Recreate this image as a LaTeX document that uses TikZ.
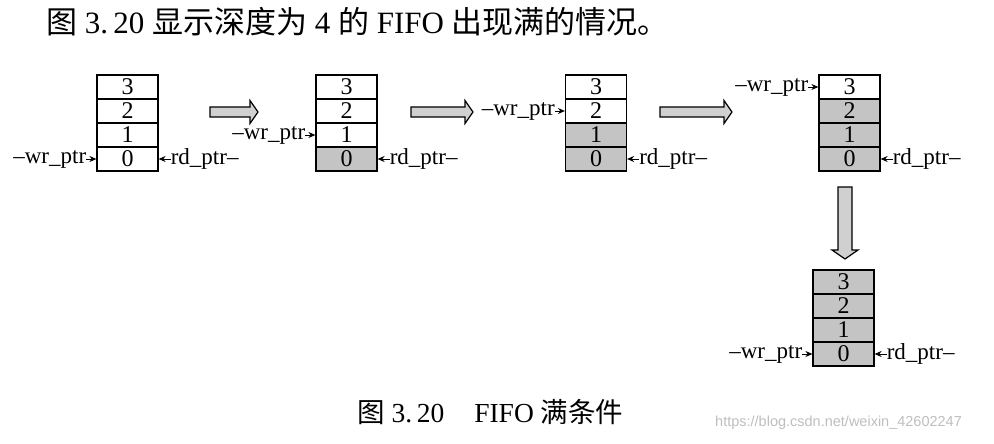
\documentclass[tikz,border=0pt]{standalone}
\usepackage{fontspec}
\setmainfont{Liberation Serif}
\newfontfamily\cjk{Noto Sans CJK SC}
\newfontfamily\wmfont{Liberation Sans}
\usetikzlibrary{arrows.meta,calc}
\definecolor{shade}{RGB}{196,196,196}
\definecolor{arrowfill}{RGB}{208,208,208}
\definecolor{wmgray}{RGB}{190,190,190}
\tikzset{
  cell/.style={draw=black, line width=1.2pt, minimum width=61pt, minimum height=24pt, inner sep=0pt, font=\fontsize{24}{24}\selectfont},
  full/.style={fill=shade},
  lbl/.style={inner sep=0pt, font=\fontsize{23}{23}\selectfont},
  ptr/.style={-{Stealth[length=7pt,width=6pt]}, line width=0.9pt},
  blockarrow/.style={draw=black, line width=1.2pt, fill=arrowfill}
}
\newcommand{\stackcells}[6]{%
  \node[cell,#4] (#1r0) at (#2,#3+84) {0};
  \node[cell,#5] (#1r1) at (#2,#3+60) {1};
  \node[cell,#6] (#1r2) at (#2,#3+36) {2};
}
\begin{document}
\begin{tikzpicture}[x=1pt,y=-1pt]
\useasboundingbox (0,0) rectangle (994,444);

% title
\node[anchor=west, inner sep=0pt, font=\fontsize{31}{31}\selectfont] (title) at (46,22)
  {{\cjk 图} 3.\,20 {\cjk 显示深度为} 4 {\cjk 的} FIFO {\cjk 出现满的情况。}};

% stack 1
\stackcells{a}{127.5}{75}{}{}{}
\node[cell] (ar3) at (127.5,87) {3};
% stack 2
\stackcells{b}{346.5}{75}{full}{}{}
\node[cell] (br3) at (346.5,87) {3};
% stack 3
\stackcells{c}{596}{75}{full}{full}{}
\node[cell] (cr3) at (596,87) {3};
% stack 4
\stackcells{d}{849.5}{75}{full}{full}{full}
\node[cell] (dr3) at (849.5,87) {3};
% stack 5
\stackcells{e}{843.5}{270}{full}{full}{full}
\node[cell,full] (er3) at (843.5,282) {3};

% pointers
\node[lbl, anchor=east] (wa) at ($(ar0.west)+(-10,0)$) {–wr\_ptr};
\draw[ptr] (wa.east) -- (ar0.west);
\node[lbl, anchor=west] (ra) at ($(ar0.east)+(12,0)$) {rd\_ptr–};
\draw[ptr] (ra.west) -- (ar0.east);

\node[lbl, anchor=east] (wb) at ($(br1.west)+(-10,0)$) {–wr\_ptr};
\draw[ptr] (wb.east) -- (br1.west);
\node[lbl, anchor=west] (rb) at ($(br0.east)+(12,0)$) {rd\_ptr–};
\draw[ptr] (rb.west) -- (br0.east);

\node[lbl, anchor=east] (wc) at ($(cr2.west)+(-10,0)$) {–wr\_ptr};
\draw[ptr] (wc.east) -- (cr2.west);
\node[lbl, anchor=west] (rc) at ($(cr0.east)+(12,0)$) {rd\_ptr–};
\draw[ptr] (rc.west) -- (cr0.east);

\node[lbl, anchor=east] (wd) at ($(dr3.west)+(-10,0)$) {–wr\_ptr};
\draw[ptr] (wd.east) -- (dr3.west);
\node[lbl, anchor=west] (rd) at ($(dr0.east)+(12,0)$) {rd\_ptr–};
\draw[ptr] (rd.west) -- (dr0.east);

\node[lbl, anchor=east] (we) at ($(er0.west)+(-10,0)$) {–wr\_ptr};
\draw[ptr] (we.east) -- (er0.west);
\node[lbl, anchor=west] (re) at ($(er0.east)+(12,0)$) {rd\_ptr–};
\draw[ptr] (re.west) -- (er0.east);

% block arrows (horizontal)
\draw[blockarrow] (210,107) -- (250,107) -- (250,100.5) -- (258,112) -- (250,123.5) -- (250,117) -- (210,117) -- cycle;
\draw[blockarrow] (411,107) -- (465,107) -- (465,100.5) -- (473,112) -- (465,123.5) -- (465,117) -- (411,117) -- cycle;
\draw[blockarrow] (660,107) -- (724,107) -- (724,100.5) -- (732,112) -- (724,123.5) -- (724,117) -- (660,117) -- cycle;
% block arrow (down)
\draw[blockarrow] (838,187) -- (852,187) -- (852,250) -- (858,250) -- (845,259) -- (832,250) -- (838,250) -- cycle;

% caption
\node[anchor=west, inner sep=0pt, font=\fontsize{27.5}{27.5}\selectfont] (cap) at (357,412)
  {{\cjk 图} 3.\,20\hspace{30pt}FIFO {\cjk 满条件}};

% watermark
\node[anchor=west, inner sep=0pt, text=wmgray, font=\wmfont\fontsize{14.5}{14.5}\selectfont] (wm) at (715,423)
  {https://blog.csdn.net/weixin\_42602247};
\end{tikzpicture}
\end{document}
